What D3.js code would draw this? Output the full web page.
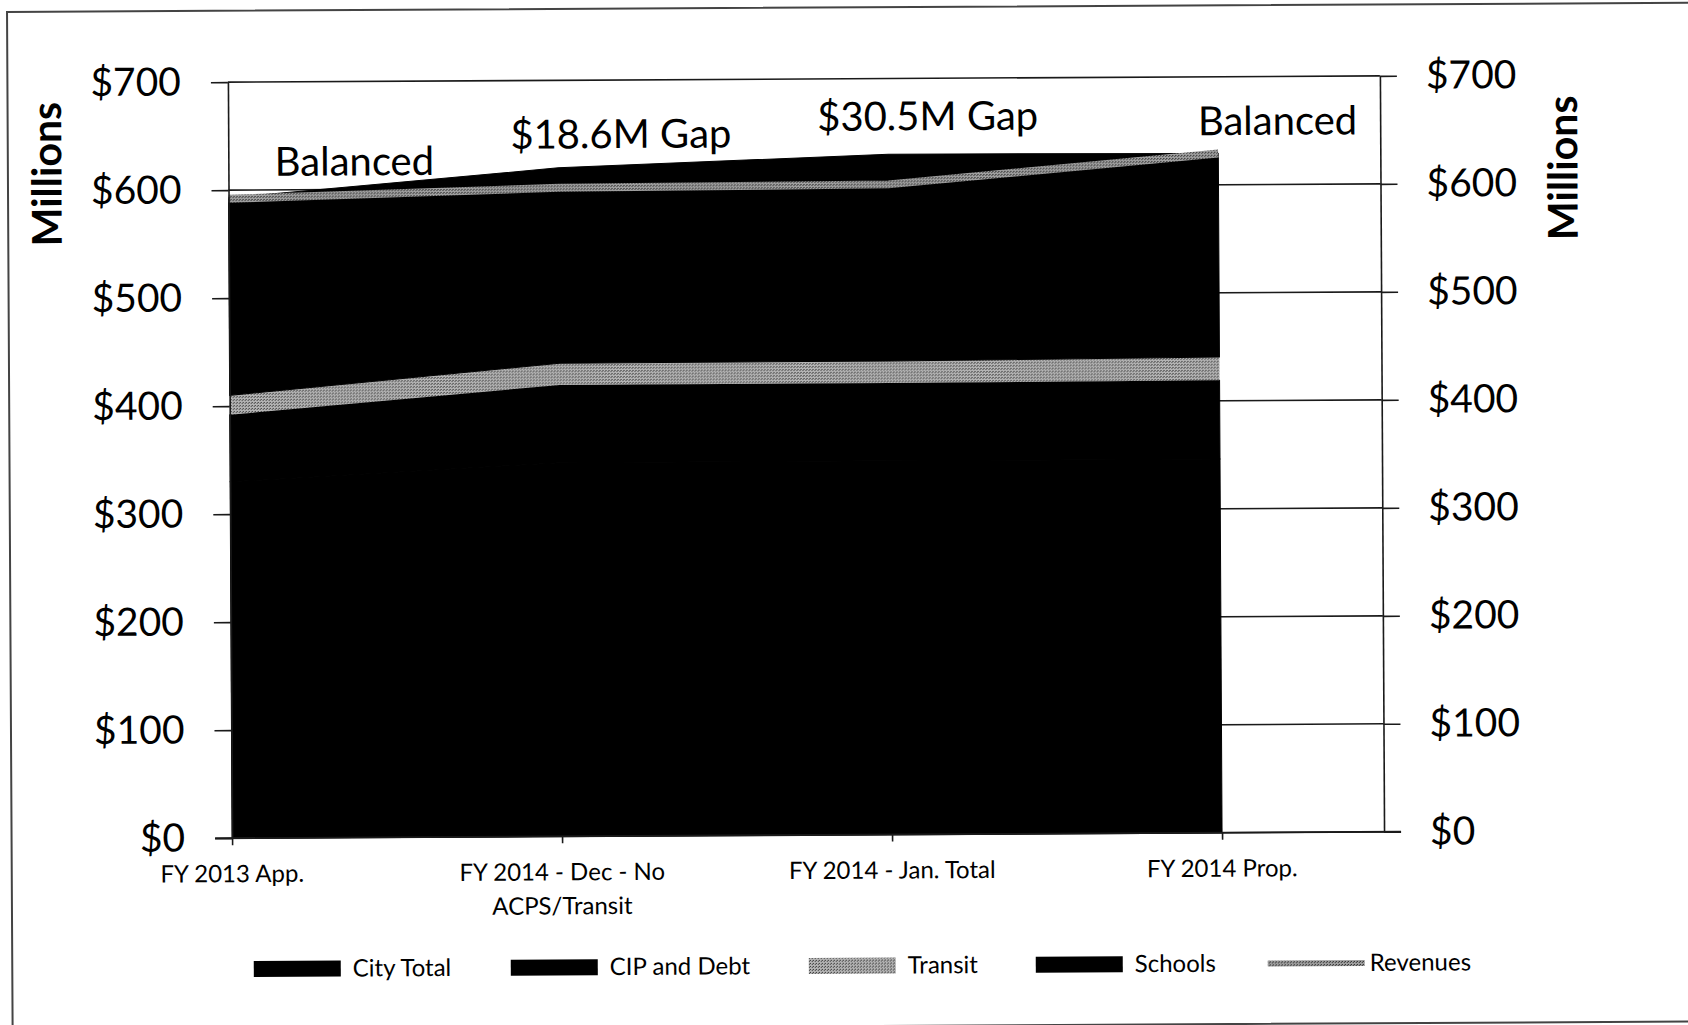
<!DOCTYPE html>
<html><head><meta charset="utf-8">
<script src="https://cdn.jsdelivr.net/npm/d3@7"></script>
<style>
html,body{margin:0;padding:0;background:#fff;overflow:hidden;}
svg{display:block;}
text{font-family:Lato,"Open Sans",sans-serif;fill:#000;}
</style></head><body>
<svg id="chart" width="1688" height="1025"></svg>
<script>
// ---------- data ----------
const categories = ["FY 2013 App.", "FY 2014 - Dec - No ACPS/Transit", "FY 2014 - Jan. Total", "FY 2014 Prop."];
const categoryLines = [["FY 2013 App."], ["FY 2014 - Dec - No", "ACPS/Transit"], ["FY 2014 - Jan. Total"], ["FY 2014 Prop."]];
const cityTotal = [330, 346, 346, 346];
const cipDebt   = [62, 72, 72, 73];
const transit   = [18, 20, 20.5, 21.5];
const schools   = [183, 181, 191.5, 188.5];
const revenues  = [592, 600.5, 602, 629];
const seriesNames = ["City Total", "CIP and Debt", "Transit", "Schools", "Revenues"];
const yTicks = [0, 100, 200, 300, 400, 500, 600, 700];
const yTickLabels = ["$0", "$100", "$200", "$300", "$400", "$500", "$600", "$700"];
const axisTitle = "Millions";
const annotationTexts = ["Balanced", "$18.6M Gap", "$30.5M Gap", "Balanced"];

// ---------- layout ----------
const L = 230, R = 1382, T = 79, B = 835, lastX = 1220;
const annotationAt = [[0.382, 613], [1.19, 637], [2.12, 652], [3.18, 646]]; // [category index, value]
const legendX = [251, 508, 806, 1033, 1265];

const svg = d3.select("#chart");
const defs = svg.append("defs");
const pat = defs.append("pattern").attr("id", "halftone").attr("patternUnits", "userSpaceOnUse")
  .attr("width", 3).attr("height", 3);
pat.append("rect").attr("width", 3).attr("height", 3).attr("fill", "#b4b4b4");
pat.append("rect").attr("x", 0).attr("y", 0).attr("width", 1).attr("height", 1).attr("fill", "#222");
pat.append("rect").attr("x", 2).attr("y", 1).attr("width", 1).attr("height", 1).attr("fill", "#444");
const pat2 = defs.append("pattern").attr("id", "revdots").attr("patternUnits", "userSpaceOnUse")
  .attr("width", 3).attr("height", 3);
pat2.append("rect").attr("width", 3).attr("height", 3).attr("fill", "#a0a0a0");
pat2.append("rect").attr("x", 1).attr("y", 1).attr("width", 1).attr("height", 1).attr("fill", "#111");
pat2.append("rect").attr("x", 0).attr("y", 2).attr("width", 1).attr("height", 1).attr("fill", "#333");

const fills = ["#000", "#000", "url(#halftone)", "#000"];

const root = svg.append("g").attr("transform", "rotate(-0.315,805,460)");

// outer frame
root.append("rect").attr("x", 9.5).attr("y", 7.6).attr("width", 1800).attr("height", 1018.8)
  .attr("fill", "none").attr("stroke", "#444").attr("stroke-width", 2);

const x = d3.scalePoint().domain(categories).range([L, lastX]);
const xi = d3.scaleLinear().domain([0, categories.length - 1]).range([L, lastX]);
const y = d3.scaleLinear().domain([0, 700]).range([B, T]);

// gridlines
root.append("g").selectAll("line").data(yTicks).join("line")
  .attr("x1", L).attr("x2", R).attr("y1", d => y(d)).attr("y2", d => y(d))
  .attr("stroke", "#1a1a1a").attr("stroke-width", 1.6);

// stacked areas
const rows = categories.map((c, i) => ({cat: c, ct: cityTotal[i], cip: cipDebt[i], tr: transit[i], sc: schools[i]}));
const stack = d3.stack().keys(["ct", "cip", "tr", "sc"])(rows);
const area = d3.area().x(d => x(d.data.cat)).y0(d => y(d[0])).y1(d => y(d[1]));
root.append("g").selectAll("path").data(stack).join("path")
  .attr("d", area).attr("fill", (d, i) => fills[i])
  .attr("stroke", (d, i) => i === 2 ? "none" : "#000").attr("stroke-width", 1);

// revenue line
const line = d3.line().x((d, i) => x(categories[i])).y(d => y(d));
root.append("path").attr("d", line(revenues)).attr("fill", "none")
  .attr("stroke", "url(#revdots)").attr("stroke-width", 8);

// left axis
const leftAxis = d3.axisLeft(y).tickValues(yTicks).tickFormat((d, i) => yTickLabels[i])
  .tickSizeInner(17).tickSizeOuter(0).tickPadding(30);
const gl = root.append("g").attr("transform", `translate(${L},0)`).call(leftAxis);
gl.select(".domain").attr("stroke", "#1a1a1a").attr("stroke-width", 1.6);
gl.selectAll(".tick line").attr("stroke", "#1a1a1a").attr("stroke-width", 1.6);
gl.selectAll(".tick text").attr("font-size", 39).attr("font-family", "Lato").attr("fill", "#000");

// right axis
const rightAxis = d3.axisRight(y).tickValues(yTicks).tickFormat((d, i) => yTickLabels[i])
  .tickSizeInner(17).tickSizeOuter(0).tickPadding(29);
const gr = root.append("g").attr("transform", `translate(${R},0)`).call(rightAxis);
gr.select(".domain").attr("stroke", "#1a1a1a").attr("stroke-width", 1.6);
gr.selectAll(".tick line").attr("stroke", "#1a1a1a").attr("stroke-width", 1.6);
gr.selectAll(".tick text").attr("font-size", 39).attr("font-family", "Lato").attr("fill", "#000");

// bottom axis
const bottomAxis = d3.axisBottom(x).tickSizeInner(7).tickSizeOuter(0).tickFormat("");
const gb = root.append("g").attr("transform", `translate(0,${B})`).call(bottomAxis);
gb.select(".domain").remove();
gb.selectAll(".tick line").attr("stroke", "#1a1a1a").attr("stroke-width", 1.6);
root.append("line").attr("x1", L - 17).attr("x2", R + 17).attr("y1", B).attr("y2", B)
  .attr("stroke", "#1a1a1a").attr("stroke-width", 1.8);

// category labels
const cl = root.append("g").selectAll("text").data(categories).join("text")
  .attr("x", d => x(d)).attr("y", B + 44).attr("text-anchor", "middle").attr("font-size", 24);
cl.each(function(d, i) {
  d3.select(this).selectAll("tspan").data(categoryLines[i]).join("tspan")
    .attr("x", x(d)).attr("dy", (t, j) => j === 0 ? 0 : 34).text(t => t);
});

// axis titles
root.append("text").attr("transform", "translate(48.6,170) rotate(-90)").attr("text-anchor", "middle")
  .attr("dy", "0.35em").attr("font-size", 41).attr("font-weight", "bold").text(axisTitle);
root.append("text").attr("transform", "translate(1564.6,172) rotate(-90)").attr("text-anchor", "middle")
  .attr("dy", "0.35em").attr("font-size", 41).attr("font-weight", "bold").text(axisTitle);

// annotations
root.append("g").selectAll("text").data(annotationTexts).join("text")
  .attr("x", (d, i) => xi(annotationAt[i][0])).attr("y", (d, i) => y(annotationAt[i][1]))
  .attr("text-anchor", "middle").attr("font-size", 40).text(d => d);

// legend
const lg = root.append("g").attr("transform", "translate(0,966)");
seriesNames.forEach((name, i) => {
  const gx = legendX[i];
  if (i < 4) {
    lg.append("rect").attr("x", gx).attr("y", -8).attr("width", 87).attr("height", 16).attr("fill", fills[i]);
  } else {
    lg.append("line").attr("x1", gx).attr("x2", gx + 97).attr("y1", 0).attr("y2", 0)
      .attr("stroke", "url(#revdots)").attr("stroke-width", 6);
  }
  lg.append("text").attr("x", gx + (i < 4 ? 99 : 102)).attr("y", 8).attr("font-size", 24).text(name);
});
</script>
</body></html>
